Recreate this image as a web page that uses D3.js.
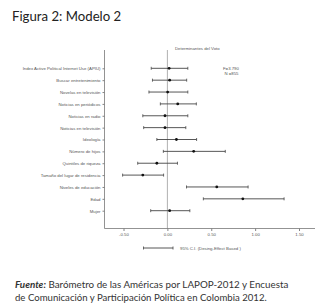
<!DOCTYPE html>
<html><head><meta charset="utf-8">
<script src="https://cdn.jsdelivr.net/npm/d3@7"></script>
<style>
html,body{margin:0;padding:0;background:#fff;}
svg{display:block;}
text{-webkit-font-smoothing:antialiased;}
</style></head>
<body>
<svg id="chart" width="320" height="308"></svg>
<script>
const categories = ["Index Active Political Internet Use (APIU)","Buscar entretenimiento","Novelas en televisión","Noticias en periódicos","Noticias en radio","Noticias en televisión","Ideología","Número de hijos","Quintiles de riqueza","Tamaño del lugar de residencia","Niveles de educación","Edad","Mujer"];
const estimates = [0.02,0.026,0.003,0.118,-0.027,-0.027,0.103,0.30,-0.12,-0.28,0.563,0.86,0.026];
const lower = [-0.184,-0.17,-0.21,-0.08,-0.28,-0.27,-0.12,-0.046,-0.338,-0.51,0.218,0.41,-0.19];
const upper = [0.233,0.22,0.233,0.33,0.233,0.21,0.333,0.66,0.115,-0.043,0.92,1.33,0.256];
const xTicks = [-0.5,0,0.5,1.0,1.5];
const xTickLabels = ["-0.50","0.00","0.50","1.00","1.50"];
const chartTitle = "Determinantes del Voto";
const statsText = ["F=3.790","N =855"];
const legendText = "95% C.I. (Desing-Effect Based )";
const figTitle = "Figura 2: Modelo 2";
const source1 = "Barómetro de las Américas por LAPOP-2012 y Encuesta";
const source2 = "de Comunicación y Participación Política en Colombia 2012.";

const svg = d3.select("#chart");
const x = d3.scaleLinear().domain([-0.5,1.5]).range([123.5,299]);
const y = d3.scalePoint().domain(categories).range([68.3,210.7]);
const plotTop = 50, plotBottom = 228.5, axisX = 104.5, axisRight = 315;
const smallFont = "'Liberation Sans', Arial, sans-serif";
const bigFont = "Lato, 'Open Sans', sans-serif";

svg.append("text").attr("x",12).attr("y",21).text(figTitle)
  .style("font-family",bigFont).style("font-size","13.2px").style("fill","#222");

svg.append("text").attr("x",175).attr("y",49.5).text(chartTitle)
  .style("font-family",smallFont).style("font-size","4.3px").style("fill","#555");

// reference line at zero
svg.append("line").attr("x1",x(0)).attr("x2",x(0)).attr("y1",plotTop).attr("y2",plotBottom)
  .attr("stroke","#b0b0b0").attr("stroke-width",1);

// y axis
const yAxis = d3.axisLeft(y).tickSize(2).tickPadding(2);
const gy = svg.append("g").attr("transform",`translate(${axisX},0)`).call(yAxis);
gy.select(".domain").remove();
gy.append("line").attr("x1",0).attr("x2",0).attr("y1",plotTop).attr("y2",plotBottom).attr("stroke","#777").attr("stroke-width",0.8);
gy.selectAll(".tick line").attr("stroke","#666").attr("stroke-width",0.8);
gy.selectAll(".tick text").style("font-family",smallFont).style("font-size","4.3px").style("fill","#555");

// x axis
const xAxis = d3.axisBottom(x).tickValues(xTicks).tickFormat((d,i)=>xTickLabels[i]).tickSize(2.5).tickPadding(1.5);
const gx = svg.append("g").attr("transform",`translate(0,${plotBottom})`).call(xAxis);
gx.select(".domain").remove();
gx.append("line").attr("x1",axisX).attr("x2",axisRight).attr("y1",0).attr("y2",0).attr("stroke","#777").attr("stroke-width",0.8);
gx.selectAll(".tick line").attr("stroke","#666").attr("stroke-width",0.8);
gx.selectAll(".tick text").style("font-family",smallFont).style("font-size","4.3px").style("fill","#555");

// error bars
const g = svg.append("g");
const rows = categories.map((c,i)=>({c,est:estimates[i],lo:lower[i],hi:upper[i]}));
const rg = g.selectAll("g.row").data(rows).join("g").attr("class","row");
rg.append("line").attr("x1",d=>x(d.lo)).attr("x2",d=>x(d.hi)).attr("y1",d=>y(d.c)).attr("y2",d=>y(d.c))
  .attr("stroke","#444").attr("stroke-width",0.9);
rg.append("line").attr("x1",d=>x(d.lo)).attr("x2",d=>x(d.lo)).attr("y1",d=>y(d.c)-1.5).attr("y2",d=>y(d.c)+1.5)
  .attr("stroke","#444").attr("stroke-width",0.8);
rg.append("line").attr("x1",d=>x(d.hi)).attr("x2",d=>x(d.hi)).attr("y1",d=>y(d.c)-1.5).attr("y2",d=>y(d.c)+1.5)
  .attr("stroke","#444").attr("stroke-width",0.8);
rg.append("circle").attr("cx",d=>x(d.est)).attr("cy",d=>y(d.c)).attr("r",1.4).attr("fill","#111");

// stats
statsText.forEach((t,i)=>{
  svg.append("text").attr("x",i===0?223:224.5).attr("y",69.5+i*5).text(t)
    .style("font-family",smallFont).style("font-size","4.3px").style("fill","#555");
});

// legend
const ly = 248;
svg.append("line").attr("x1",143.5).attr("x2",173).attr("y1",ly).attr("y2",ly).attr("stroke","#444").attr("stroke-width",0.9);
[143.5,173].forEach(xx=>svg.append("line").attr("x1",xx).attr("x2",xx).attr("y1",ly-1.5).attr("y2",ly+1.5).attr("stroke","#444").attr("stroke-width",0.8));
svg.append("text").attr("x",180).attr("y",249.5).text(legendText)
  .style("font-family",smallFont).style("font-size","4.3px").style("fill","#555");

// source
const src = svg.append("text").attr("x",15).attr("y",288)
  .style("font-family",bigFont).style("font-size","9.8px").style("fill","#333");
src.append("tspan").text("Fuente:").style("font-weight","bold").style("font-style","italic");
src.append("tspan").text(" "+source1);
svg.append("text").attr("x",15).attr("y",300.5).text(source2)
  .style("font-family",bigFont).style("font-size","9.6px").style("fill","#333");
</script>
</body></html>
